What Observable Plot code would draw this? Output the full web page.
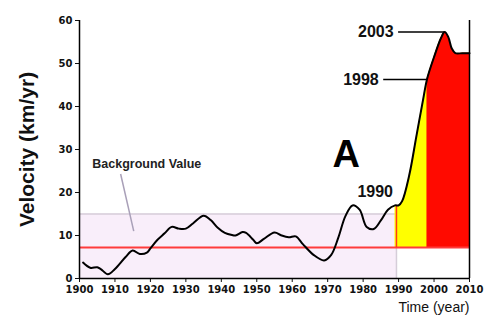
<!DOCTYPE html>
<html>
<head>
<meta charset="utf-8">
<script src="https://cdn.jsdelivr.net/npm/d3@7"></script>
<script src="https://cdn.jsdelivr.net/npm/@observablehq/plot@0.6"></script>
<style>
  html, body { margin: 0; padding: 0; background: #fff; }
  #chart { width: 500px; height: 327px; }
</style>
</head>
<body>
<div id="chart"></div>
<script>
// --- data ---
const years = [1901,1903,1905,1906,1908,1910,1913,1915,1917,1919,1920,1922,1924,1926,1928,1930,1932,1935,1937,1939,1941,1943,1944,1946,1947,1949,1950,1952,1955,1957,1959,1961,1963,1966,1969,1971,1973,1975,1977,1979,1981,1983,1985,1987,1989,1990,1991,1993,1995,1997,1998,2000,2002,2003,2004,2005,2006,2008,2010];
const velocity = [3.7,2.5,2.6,2.2,1.0,2.2,5.0,6.5,5.7,6.0,7.0,9.0,10.5,12.0,11.6,11.6,12.8,14.6,13.6,11.8,10.6,10.1,10.0,10.8,10.6,9.0,8.2,9.2,10.7,10.0,9.6,9.8,8.0,5.5,4.2,5.5,9.5,14.5,17.0,16.0,12.0,11.5,13.5,16.0,17.0,17.0,18.0,24.0,33.0,42.0,46.3,51.5,56.0,57.3,56.2,53.5,52.4,52.4,52.4];
const xTicks = [1900,1910,1920,1930,1940,1950,1960,1970,1980,1990,2000,2010];
const yTicks = [0,10,20,30,40,50,60];
const backgroundValue = 7.2;
const bandTop = 15;
const bandEnd = 1989.4;
const yellowStart = 1989, redStart = 1998;
const annotations = [
  {label: "2003", year: 2003, value: 57.3, textYear: 1988.6, lineFrom: 1990},
  {label: "1998", year: 1998, value: 46.3, textYear: 1984.4, lineFrom: 1985.8}
];

const data = years.map((y, i) => ({year: y, v: velocity[i]}));
const curve = "catmull-rom";

const plot = Plot.plot({
  width: 500,
  height: 327,
  marginLeft: 79,
  marginRight: 31,
  marginTop: 20,
  marginBottom: 49,
  style: {fontFamily: "DejaVu Sans, sans-serif", fontSize: "10px", fontWeight: "bold", color: "#111", background: "#fff"},
  x: {domain: [1900, 2010], ticks: xTicks, tickFormat: d => String(d), tickSize: 4, tickPadding: 3, label: null},
  y: {domain: [0, 60], ticks: yTicks, tickSize: 4, tickPadding: 3, label: null},
  marks: [
    // background band
    Plot.rect([0], {x1: 1900, x2: bandEnd, y1: 0, y2: bandTop, fill: "#f9eefa"}),
    Plot.ruleY([bandTop], {x1: 1900, x2: bandEnd, stroke: "#d6cdd9", strokeWidth: 1.5}),
    Plot.ruleX([bandEnd], {y1: 0, y2: bandTop, stroke: "#d6cdd9", strokeWidth: 1.5}),
    // filled areas
    Plot.areaY(data.filter(d => d.year >= yellowStart), {x: "year", y1: backgroundValue, y2: "v", fill: "#ffff00", curve}),
    Plot.areaY(data.filter(d => d.year >= redStart), {x: "year", y1: backgroundValue, y2: "v", fill: "#ff0a00", curve}),
    // background value line
    Plot.ruleY([backgroundValue], {x1: 1900, x2: 2010, stroke: "#ff3b3b", strokeWidth: 2}),
    Plot.ruleX([bandEnd], {y1: backgroundValue, y2: 17, stroke: "#ff3b1a", strokeWidth: 1.5}),
    // curve
    Plot.line(data, {x: "year", y: "v", stroke: "#000", strokeWidth: 2, curve}),
    // frame lines
    Plot.ruleX([1900, 2010], {y1: 0, y2: 60, stroke: "#000", strokeWidth: 1.5}),
    Plot.ruleY([0], {x1: 1900, x2: 2010, stroke: "#000", strokeWidth: 1.5}),
    // annotations
    Plot.ruleY(annotations, {y: "value", x1: "lineFrom", x2: "year", stroke: "#000", strokeWidth: 1.5}),
    Plot.text(annotations, {x: "textYear", y: "value", text: "label", textAnchor: "end", fontSize: 16, fontWeight: "bold", fontFamily: "Liberation Sans, Arial, sans-serif", fill: "#111"}),
    Plot.text(["1990"], {x: 1983.4, y: 20.1, text: d => d, fontSize: 16, fontWeight: "bold", fontFamily: "Liberation Sans, Arial, sans-serif", fill: "#111"}),
    Plot.text(["A"], {x: 1975.2, y: 28.8, text: d => d, fontSize: 38, fontWeight: "bold", fontFamily: "Liberation Sans, Arial, sans-serif", fill: "#000"}),
    Plot.text(["Background Value"], {x: 1903.6, y: 26.7, text: d => d, textAnchor: "start", fontSize: 12.5, fontWeight: "bold", fontFamily: "Liberation Sans, Arial, sans-serif", fill: "#222"}),
    Plot.link([0], {x1: 1911.6, y1: 24.3, x2: 1915.3, y2: 11.0, stroke: "#a9a0b8", strokeWidth: 1.5}),
    // axis titles
    Plot.text(["Velocity (km/yr)"], {frameAnchor: "left", dx: -52, rotate: -90, textAnchor: "middle", text: d => d, fontSize: 21, fontWeight: "bold", fontFamily: "Liberation Sans, Arial, sans-serif", fill: "#111"}),
    Plot.text(["Time (year)"], {frameAnchor: "bottom-right", dy: 33, textAnchor: "end", text: d => d, fontSize: 14, fontWeight: "normal", fontFamily: "Liberation Sans, Arial, sans-serif", fill: "#111"})
  ]
});
document.getElementById("chart").appendChild(plot);
</script>
</body>
</html>
